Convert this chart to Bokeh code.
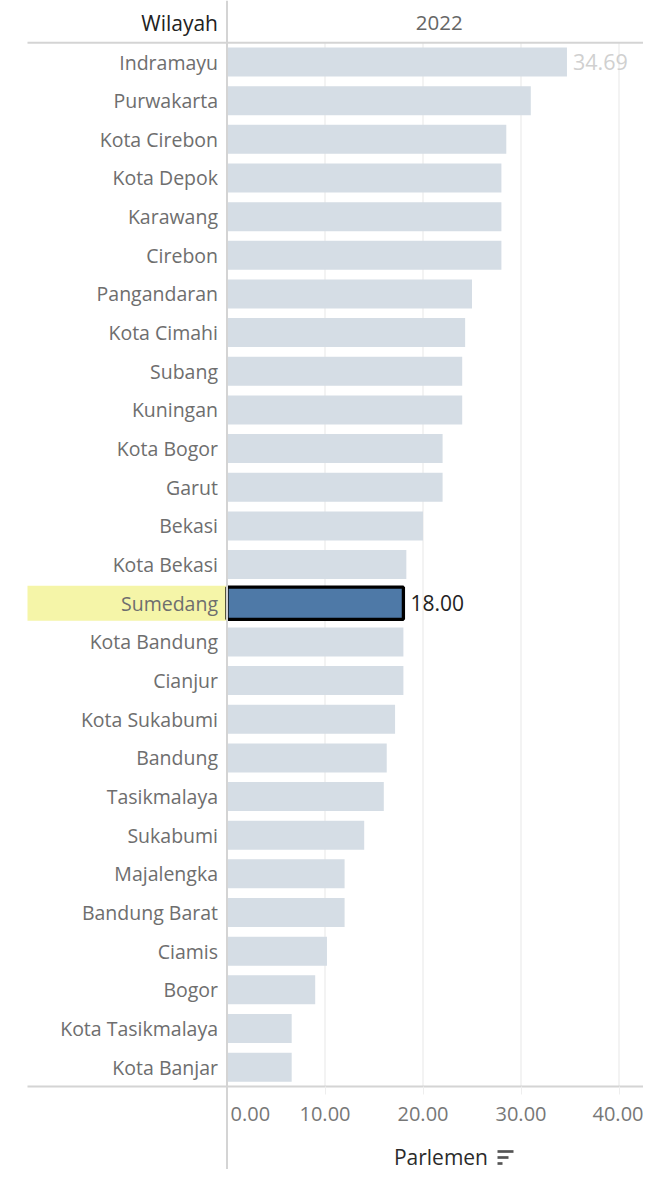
from bokeh.plotting import figure
from bokeh.models import ColumnDataSource, Range1d, LinearAxis, FixedTicker, PrintfTickFormatter, Span
from bokeh.core.properties import value
from bokeh.embed import file_html
from bokeh.resources import INLINE

# ---- data ----
regions = ["Indramayu", "Purwakarta", "Kota Cirebon", "Kota Depok", "Karawang", "Cirebon",
           "Pangandaran", "Kota Cimahi", "Subang", "Kuningan", "Kota Bogor", "Garut", "Bekasi",
           "Kota Bekasi", "Sumedang", "Kota Bandung", "Cianjur", "Kota Sukabumi", "Bandung",
           "Tasikmalaya", "Sukabumi", "Majalengka", "Bandung Barat", "Ciamis", "Bogor",
           "Kota Tasikmalaya", "Kota Banjar"]
parlemen = [34.69, 31.0, 28.5, 28.0, 28.0, 28.0, 25.0, 24.3, 24.0, 24.0, 22.0, 22.0, 20.0,
            18.3, 18.0, 18.0, 18.0, 17.15, 16.3, 16.0, 14.0, 12.0, 12.0, 10.2, 9.0, 6.6, 6.6]
highlight = "Sumedang"
labelled = ["Indramayu", "Sumedang"]
x_ticks = [0, 10, 20, 30, 40]
column_header = "Wilayah"
year_header = "2022"
measure = "Parlemen"

FONT = "Open Sans"
W, H = 643, 1169
PX_PER_UNIT = 9.8
ZERO_PX = 226.5
ROW_PX = 38.66
ROW0_PX = 61.5

x_start = -ZERO_PX / PX_PER_UNIT
x_end = (W - ZERO_PX) / PX_PER_UNIT
y_top = -ROW0_PX / ROW_PX
y_bottom = (H - ROW0_PX) / ROW_PX
label_left = (27 - ZERO_PX) / PX_PER_UNIT
pane_right = (651 - ZERO_PX) / PX_PER_UNIT

n = len(regions)
idx = list(range(n))
src = ColumnDataSource(dict(y=idx, name=regions, v=parlemen))
hi_i = regions.index(highlight)
hi_src = ColumnDataSource(dict(y=[hi_i], v=[parlemen[hi_i]], vtxt=["%.2f" % parlemen[hi_i]]))
top_i = regions.index(labelled[0])
top_src = ColumnDataSource(dict(y=[top_i], v=[parlemen[top_i]], vtxt=["%.2f" % parlemen[top_i]]))

p = figure(width=W, height=H, output_backend="svg", toolbar_location=None,
           x_range=Range1d(x_start, x_end), y_range=Range1d(y_bottom, y_top),
           x_axis_location=None, y_axis_location=None,
           min_border=0, min_border_left=0, min_border_right=0, min_border_top=0, min_border_bottom=0)
p.outline_line_color = None
p.background_fill_color = "white"
p.grid.visible = False

# vertical grid lines
gx = x_ticks[1:]
p.segment(x0=gx, x1=gx, y0=[-0.5] * len(gx), y1=[n - 0.5] * len(gx),
          line_color="#efefef", line_width=1.5)

# highlight band behind the label
p.hbar(y=[hi_i], left=[label_left], right=[0], height=0.9, fill_color="#f5f5a8", line_color=None)

# bars
p.hbar(y="y", right="v", left=0, height=0.75, source=src, fill_color="#d5dde5", line_color=None)
p.hbar(y="y", right="v", left=0, height=0.83, source=hi_src, fill_color="#4e79a7",
       line_color="black", line_width=3.3)

# header / bottom lines and zero line
p.segment(x0=[label_left, label_left], x1=[pane_right, pane_right], y0=[-0.5, n - 0.5],
          y1=[-0.5, n - 0.5], line_color="#d4d4d4", line_width=2)
p.add_layout(Span(location=0, dimension="height", line_color="#d4d4d4", line_width=2))

# category labels
p.text(x=0, y="y", text="name", source=src, x_offset=-9, text_align="right", text_baseline="middle",
       text_font=value(FONT), text_font_size="19.5px", text_color="#6e6e6e")

# value labels
p.text(x="v", y="y", text="vtxt", source=top_src, x_offset=6, text_align="left", text_baseline="middle",
       text_font=value(FONT), text_font_size="21.5px", text_color="#d0d0d0")
p.text(x="v", y="y", text="vtxt", source=hi_src, x_offset=7, text_align="left", text_baseline="middle",
       text_font=value(FONT), text_font_size="21px", text_color="#222222")

# column headers
p.text(x=[0], y=[-1.0], text=[column_header], x_offset=-9, text_align="right", text_baseline="middle",
       text_font=value(FONT), text_font_size="21px", text_color="#222222")
p.text(x=[pane_right / 2], y=[-1.0], text=[year_header], text_align="center", text_baseline="middle",
       text_font=value(FONT), text_font_size="20.5px", text_color="#666666")

# x axis
ax = LinearAxis(fixed_location=n - 0.5, bounds=(0, x_end),
                ticker=FixedTicker(ticks=x_ticks), formatter=PrintfTickFormatter(format="%.2f"))
ax.major_label_overrides = {0: "\u00a0" * 9 + "0.00"}
ax.axis_line_color = None
ax.major_tick_in = 0
ax.major_tick_out = 8
ax.major_tick_line_color = "#eeeeee"
ax.minor_tick_line_color = None
ax.major_label_standoff = 6
ax.major_label_text_font = FONT
ax.major_label_text_font_size = "20px"
ax.major_label_text_color = "#777777"
ax.axis_label = "\u00a0" * 2 + measure
ax.axis_label_standoff = 12
ax.axis_label_text_font = FONT
ax.axis_label_text_font_size = "21px"
ax.axis_label_text_font_style = "normal"
ax.axis_label_text_color = "#2b2b2b"
p.add_layout(ax, "below")

# sort icon next to the measure title
ix0 = (497 - ZERO_PX) / PX_PER_UNIT
iy = [(1151 - ROW0_PX) / ROW_PX, (1157 - ROW0_PX) / ROW_PX, (1163 - ROW0_PX) / ROW_PX]
ilen = [16 / PX_PER_UNIT, 11 / PX_PER_UNIT, 5 / PX_PER_UNIT]
p.segment(x0=[ix0] * 3, x1=[ix0 + l for l in ilen], y0=iy, y1=iy, line_color="#555555", line_width=2.7)

open("out.html", "w").write(file_html(p, INLINE))
